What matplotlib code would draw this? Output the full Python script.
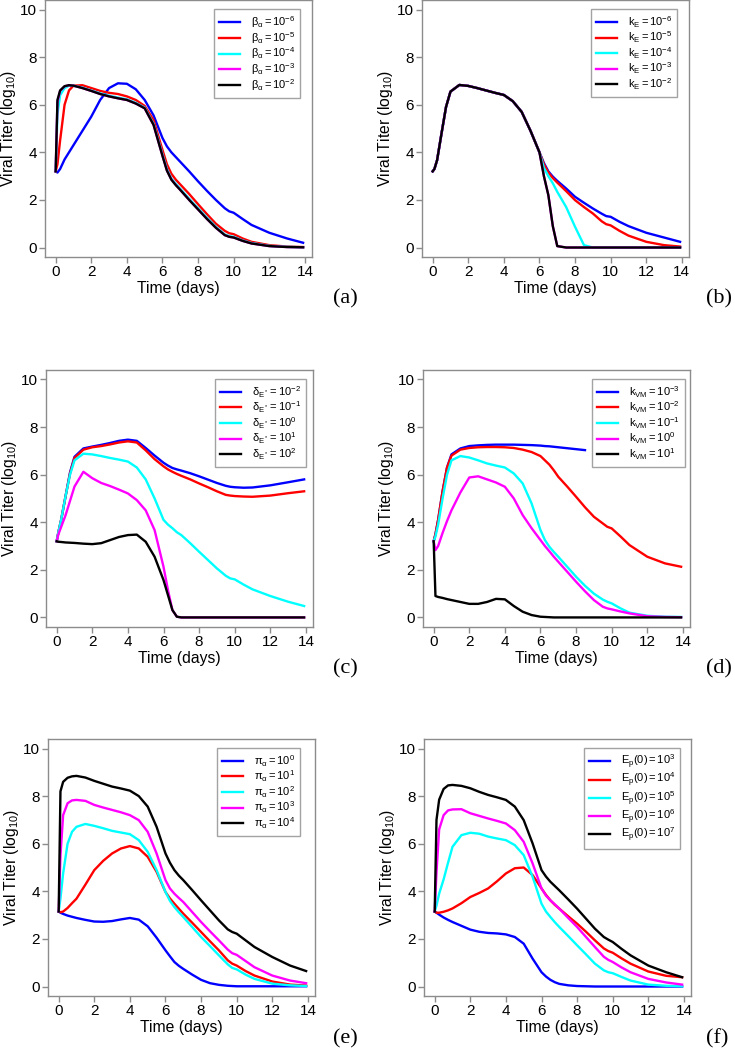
import matplotlib
matplotlib.use('Agg')
import matplotlib.pyplot as plt
import numpy as np

plt.rcParams['font.family'] = ['Liberation Sans', 'DejaVu Sans']
plt.rcParams['mathtext.fontset'] = 'custom'
plt.rcParams['mathtext.rm'] = 'Liberation Sans'
plt.rcParams['mathtext.it'] = 'Liberation Sans:italic'
plt.rcParams['mathtext.bf'] = 'Liberation Sans:bold'

t = [0, 0.1, 0.25, 0.5, 0.75, 1, 1.5, 2, 2.5, 3, 3.5, 4, 4.5, 5, 5.5, 6,
     6.25, 6.5, 6.75, 7, 7.5, 8, 8.5, 9, 9.5, 9.75, 10, 10.5, 11, 12, 13, 13.9]
nan = float('nan')

# (a) beta_alpha
a_labels = [r'$\mathrm{\beta_\alpha = 10^{-6}}$', r'$\mathrm{\beta_\alpha = 10^{-5}}$',
            r'$\mathrm{\beta_\alpha = 10^{-4}}$', r'$\mathrm{\beta_\alpha = 10^{-3}}$',
            r'$\mathrm{\beta_\alpha = 10^{-2}}$']
a_blue = [3.2, 3.15, 3.3, 3.7, 4.0, 4.3, 4.9, 5.5, 6.2, 6.7, 6.9, 6.88, 6.65, 6.2, 5.55, 4.6,
          4.25, 4.0, 3.8, 3.6, 3.2, 2.78, 2.38, 2.0, 1.65, 1.52, 1.46, 1.2, 0.95, 0.62, 0.38, 0.2]
a_red = [3.2, 3.5, 4.5, 6.0, 6.6, 6.8, 6.82, 6.7, 6.58, 6.5, 6.45, 6.35, 6.2, 5.95, 5.35, 4.1,
         3.5, 3.1, 2.85, 2.65, 2.25, 1.82, 1.4, 1.0, 0.7, 0.6, 0.56, 0.38, 0.24, 0.1, 0.04, 0.02]
a_cyan = [3.2, 5.6, 6.4, 6.7, 6.8, 6.8, 6.72, 6.6, 6.48, 6.38, 6.3, 6.23, 6.08, 5.88, 5.2, 3.92,
          3.3, 2.9, 2.68, 2.47, 2.05, 1.65, 1.25, 0.87, 0.55, 0.48, 0.45, 0.3, 0.19, 0.07, 0.03, 0.01]
a_magenta = [3.2, 6.1, 6.58, 6.77, 6.82, 6.8, 6.7, 6.58, 6.45, 6.35, 6.27, 6.2, 6.05, 5.85, 5.15, 3.86,
             3.24, 2.86, 2.63, 2.42, 2.0, 1.6, 1.2, 0.83, 0.52, 0.45, 0.42, 0.28, 0.17, 0.06, 0.02, 0.01]
a_black = [3.2, 6.2, 6.6, 6.78, 6.82, 6.8, 6.7, 6.58, 6.45, 6.35, 6.27, 6.2, 6.05, 5.85, 5.15, 3.85,
           3.23, 2.85, 2.62, 2.42, 2.0, 1.6, 1.2, 0.83, 0.52, 0.45, 0.42, 0.28, 0.17, 0.06, 0.02, 0.01]

# (b) k_E
b_labels = [r'$\mathrm{k_E = 10^{-6}}$', r'$\mathrm{k_E = 10^{-5}}$', r'$\mathrm{k_E = 10^{-4}}$',
            r'$\mathrm{k_E = 10^{-3}}$', r'$\mathrm{k_E = 10^{-2}}$']
b_early = [3.2, 3.3, 3.67, 4.8, 5.9, 6.55, 6.83, 6.79, 6.7, 6.6, 6.5, 6.41, 6.15, 5.7, 4.9, 4.0]
b_blue = b_early + [3.55, 3.2, 2.98, 2.8, 2.48, 2.13, 1.88, 1.64, 1.42, 1.32, 1.29, 1.08, 0.9, 0.62, 0.42, 0.24]
b_red = b_early + [3.5, 3.15, 2.92, 2.73, 2.37, 1.99, 1.7, 1.43, 1.1, 0.98, 0.93, 0.7, 0.5, 0.24, 0.1, 0.04]
b_cyan = b_early + [3.35, 3.0, 2.7, 2.34, 1.7, 0.87, 0.1, 0, 0, 0, 0, 0, 0, 0, 0, 0]
b_magenta = b_early + [3.0, 2.2, 0.9, 0.06, 0, 0, 0, 0, 0, 0, 0, 0, 0, 0, 0, 0]
b_black = b_early + [3.0, 2.2, 0.9, 0.06, 0, 0, 0, 0, 0, 0, 0, 0, 0, 0, 0, 0]

# (c) delta_E*
c_labels = [r'$\mathrm{\delta_{E^*} = 10^{-2}}$', r'$\mathrm{\delta_{E^*} = 10^{-1}}$',
            r'$\mathrm{\delta_{E^*} = 10^{0}}$', r'$\mathrm{\delta_{E^*} = 10^{1}}$',
            r'$\mathrm{\delta_{E^*} = 10^{2}}$']
c_blue = [3.2, 3.6, 4.1, 5.1, 6.1, 6.75, 7.1, 7.18, 7.25, 7.33, 7.42, 7.47, 7.42, 7.12, 6.8, 6.5,
          6.38, 6.28, 6.22, 6.17, 6.06, 5.93, 5.79, 5.65, 5.53, 5.49, 5.47, 5.45, 5.46, 5.55, 5.68, 5.8]
c_red = [3.2, 3.6, 4.1, 5.1, 6.05, 6.7, 7.05, 7.15, 7.2, 7.27, 7.35, 7.4, 7.35, 7.02, 6.65, 6.35,
         6.22, 6.12, 6.03, 5.95, 5.8, 5.63, 5.47, 5.3, 5.15, 5.12, 5.1, 5.08, 5.07, 5.12, 5.22, 5.3]
c_cyan = [3.2, 3.6, 4.1, 5.1, 6.0, 6.6, 6.88, 6.85, 6.78, 6.7, 6.63, 6.55, 6.3, 5.8, 5.0, 4.1,
          3.9, 3.75, 3.58, 3.46, 3.12, 2.76, 2.41, 2.06, 1.75, 1.64, 1.6, 1.38, 1.18, 0.9, 0.66, 0.48]
c_magenta = [3.2, 3.5, 3.8, 4.3, 4.9, 5.5, 6.12, 5.85, 5.65, 5.52, 5.37, 5.21, 4.93, 4.5, 3.67, 2.13,
             1.15, 0.31, 0.03, 0, 0, 0, 0, 0, 0, 0, 0, 0, 0, 0, 0, 0]
c_black = [3.2, 3.18, 3.17, 3.15, 3.14, 3.13, 3.1, 3.08, 3.12, 3.25, 3.38, 3.46, 3.48, 3.18, 2.55, 1.57,
           0.94, 0.31, 0.03, 0, 0, 0, 0, 0, 0, 0, 0, 0, 0, 0, 0, 0]

# (d) k_VM
d_labels = [r'$\mathrm{k_{VM} = 10^{-3}}$', r'$\mathrm{k_{VM} = 10^{-2}}$', r'$\mathrm{k_{VM} = 10^{-1}}$',
            r'$\mathrm{k_{VM} = 10^{0}}$', r'$\mathrm{k_{VM} = 10^{1}}$']
d_blue = [3.2, 3.5, 4.1, 5.3, 6.3, 6.85, 7.1, 7.2, 7.23, 7.25, 7.26, 7.26, 7.26, 7.25, 7.24, 7.22,
          7.2, 7.19, 7.17, 7.15, 7.11, 7.07, 7.03, nan, nan, nan, nan, nan, nan, nan, nan, nan]
d_red = [3.2, 3.5, 4.1, 5.3, 6.3, 6.8, 7.05, 7.12, 7.15, 7.16, 7.16, 7.15, 7.12, 7.05, 6.95, 6.78,
         6.6, 6.42, 6.18, 5.91, 5.5, 5.07, 4.63, 4.23, 3.95, 3.81, 3.74, 3.4, 3.04, 2.55, 2.27, 2.13]
d_cyan = [3.2, 3.4, 3.9, 5.0, 6.0, 6.6, 6.78, 6.72, 6.6, 6.47, 6.38, 6.3, 6.05, 5.63, 4.79, 3.67,
          3.25, 2.97, 2.75, 2.55, 2.13, 1.71, 1.33, 1.0, 0.75, 0.66, 0.59, 0.38, 0.2, 0.07, 0.03, 0.02]
d_magenta = [3.2, 2.83, 3.0, 3.55, 4.05, 4.5, 5.25, 5.88, 5.93, 5.8, 5.67, 5.49, 5.0, 4.3, 3.75, 3.25,
             3.0, 2.78, 2.55, 2.34, 1.92, 1.5, 1.1, 0.73, 0.45, 0.38, 0.34, 0.25, 0.17, 0.05, 0.02, 0.01]
d_black = [3.2, 0.9, 0.86, 0.82, 0.77, 0.73, 0.65, 0.57, 0.57, 0.65, 0.78, 0.76, 0.48, 0.24, 0.1, 0.03,
           0.02, 0.01, 0, 0, 0, 0, 0, 0, 0, 0, 0, 0, 0, 0, 0, 0]

# (e) pi_alpha
e_labels = [r'$\mathrm{\pi_\alpha = 10^{0}}$', r'$\mathrm{\pi_\alpha = 10^{1}}$',
            r'$\mathrm{\pi_\alpha = 10^{2}}$', r'$\mathrm{\pi_\alpha = 10^{3}}$',
            r'$\mathrm{\pi_\alpha = 10^{4}}$']
e_blue = [3.15, 3.1, 3.05, 2.98, 2.93, 2.88, 2.8, 2.73, 2.72, 2.75, 2.82, 2.88, 2.81, 2.53, 2.05, 1.52,
          1.27, 1.03, 0.87, 0.74, 0.5, 0.28, 0.14, 0.07, 0.03, 0.02, 0.01, 0.01, 0.01, 0.01, 0.01, 0.01]
e_red = [3.15, 3.12, 3.15, 3.3, 3.5, 3.69, 4.28, 4.89, 5.28, 5.59, 5.8, 5.9, 5.8, 5.45, 4.82, 3.97,
         3.7, 3.48, 3.27, 3.06, 2.68, 2.29, 1.9, 1.52, 1.1, 0.96, 0.88, 0.65, 0.46, 0.21, 0.08, 0.04]
e_cyan = [3.15, 3.7, 4.75, 6.0, 6.5, 6.71, 6.83, 6.75, 6.65, 6.54, 6.47, 6.4, 6.15, 5.66, 4.89, 3.97,
          3.6, 3.34, 3.12, 2.92, 2.5, 2.08, 1.7, 1.31, 0.93, 0.78, 0.72, 0.5, 0.32, 0.12, 0.05, 0.02]
e_magenta = [3.15, 5.5, 7.2, 7.7, 7.82, 7.84, 7.8, 7.63, 7.52, 7.42, 7.32, 7.2, 6.99, 6.5, 5.59, 4.47,
             4.12, 3.9, 3.72, 3.55, 3.13, 2.71, 2.32, 1.94, 1.55, 1.4, 1.33, 1.07, 0.81, 0.46, 0.25, 0.14]
e_black = [3.15, 8.2, 8.6, 8.77, 8.83, 8.85, 8.78, 8.64, 8.52, 8.4, 8.32, 8.23, 8.0, 7.56, 6.71, 5.59,
           5.2, 4.89, 4.66, 4.47, 4.05, 3.62, 3.2, 2.78, 2.4, 2.29, 2.22, 1.94, 1.66, 1.24, 0.88, 0.65]

# (f) E_p(0)
f_labels = [r'$\mathrm{E_p(0) = 10^{3}}$', r'$\mathrm{E_p(0) = 10^{4}}$', r'$\mathrm{E_p(0) = 10^{5}}$',
            r'$\mathrm{E_p(0) = 10^{6}}$', r'$\mathrm{E_p(0) = 10^{7}}$']
f_blue = [3.15, 3.1, 3.02, 2.9, 2.8, 2.71, 2.55, 2.39, 2.3, 2.25, 2.23, 2.19, 2.08, 1.8, 1.17, 0.6,
          0.42, 0.28, 0.18, 0.11, 0.05, 0.02, 0.01, 0, 0, 0, 0, 0, 0, 0, 0, 0]
f_red = [3.15, 3.1, 3.1, 3.14, 3.2, 3.28, 3.5, 3.76, 3.93, 4.12, 4.42, 4.75, 4.97, 5.0, 4.68, 4.12,
         3.85, 3.62, 3.43, 3.27, 2.95, 2.64, 2.3, 1.94, 1.6, 1.49, 1.42, 1.18, 0.96, 0.63, 0.45, 0.39]
f_cyan = [3.15, 3.4, 3.9, 4.5, 5.2, 5.87, 6.36, 6.46, 6.42, 6.3, 6.22, 6.15, 5.94, 5.52, 4.61, 3.48,
          3.15, 2.92, 2.7, 2.5, 2.12, 1.73, 1.35, 0.96, 0.68, 0.6, 0.56, 0.4, 0.25, 0.08, 0.03, 0.01]
f_magenta = [3.15, 4.8, 6.6, 7.2, 7.4, 7.44, 7.45, 7.28, 7.17, 7.06, 6.96, 6.85, 6.57, 6.08, 5.17, 4.12,
             3.82, 3.62, 3.45, 3.27, 2.88, 2.5, 2.08, 1.66, 1.25, 1.12, 1.03, 0.8, 0.6, 0.32, 0.17, 0.08]
f_black = [3.15, 7.0, 7.85, 8.3, 8.45, 8.47, 8.43, 8.33, 8.18, 8.05, 7.95, 7.84, 7.56, 6.99, 6.01, 4.89,
           4.62, 4.4, 4.22, 4.04, 3.66, 3.27, 2.85, 2.43, 2.08, 1.97, 1.87, 1.58, 1.31, 0.88, 0.6, 0.39]

colors = ['blue', 'red', 'cyan', 'magenta', 'black']
gray = '#8c8c8c'

panels = [
    ('(a)', [0.0612, 0.7552], a_labels, [a_blue, a_red, a_cyan, a_magenta, a_black], 0.633),
    ('(b)', [0.5741, 0.7552], b_labels, [b_blue, b_red, b_cyan, b_magenta, b_black], 0.633),
    ('(c)', [0.0626, 0.4029], c_labels, [c_blue, c_red, c_cyan, c_magenta, c_black], 0.633),
    ('(d)', [0.5755, 0.4029], d_labels, [d_blue, d_red, d_cyan, d_magenta, d_black], 0.633),
    ('(e)', [0.0653, 0.0514], e_labels, [e_blue, e_red, e_cyan, e_magenta, e_black], 0.633),
    ('(f)', [0.5769, 0.0514], f_labels, [f_blue, f_red, f_cyan, f_magenta, f_black], 0.600),
]
tag_pos = {'(a)': (333, 299), '(b)': (706, 299), '(c)': (333, 669),
           '(d)': (706, 669), '(e)': (333, 1039), '(f)': (706, 1039)}

fig = plt.figure(figsize=(7.35, 10.5), dpi=100)

for tag, (left, bottom), labels, series, leg_x in panels:
    ax = fig.add_axes([left, bottom, 0.3633, 0.2448])
    for y, c, lab in zip(series, colors, labels):
        ax.plot(t, y, color=c, lw=1.7, label=lab)
    ax.set_xlim(-0.6, 14.4)
    ax.set_ylim(-0.4, 10.4)
    ax.set_xticks(range(0, 15, 2))
    ax.set_yticks(range(0, 11, 2))
    for s in ax.spines.values():
        s.set_color(gray)
        s.set_linewidth(1.0)
    ax.tick_params(direction='out', length=4.5, width=1.0, color=gray,
                   labelsize=11, pad=1.5)
    ax.set_xlabel('Time (days)', fontsize=11.3, labelpad=1)
    ax.set_ylabel('Viral Titer (log$_{10}$)', fontsize=11.3, labelpad=1)
    leg = ax.legend(loc='upper left', bbox_to_anchor=(leg_x, 0.965), borderaxespad=0,
                    fontsize=8, frameon=True, fancybox=False, handlelength=1.9,
                    handletextpad=0.95, labelspacing=0.0, borderpad=0.45)
    leg.get_frame().set_edgecolor(gray)
    leg.get_frame().set_linewidth(1.0)
    px, py = tag_pos[tag]
    fig.text(px / 735, 1 - py / 1050, tag, family='Liberation Serif', fontsize=16,
             ha='left', va='center')

fig.savefig('out.png', dpi=100)
